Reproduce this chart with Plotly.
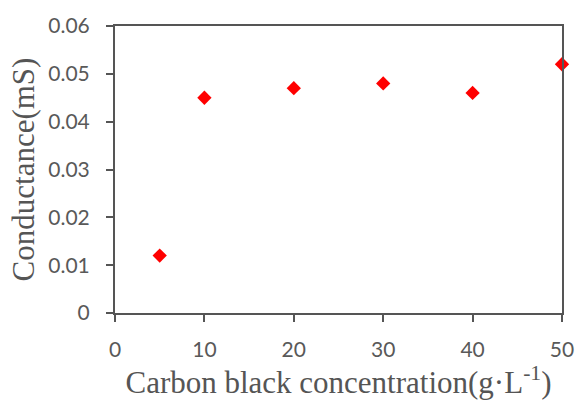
import plotly.graph_objects as go

# Conductance measured at each carbon black concentration
concentration = [5, 10, 20, 30, 40, 50]          # g·L-1
conductance = [0.012, 0.045, 0.047, 0.048, 0.046, 0.052]  # mS

x_ticks = [0, 10, 20, 30, 40, 50]
y_ticks = [0, 0.01, 0.02, 0.03, 0.04, 0.05, 0.06]
y_tick_text = ["0", "0.01", "0.02", "0.03", "0.04", "0.05", "0.06"]

axis_color = "#555555"
tick_font = dict(family="Lato, Open Sans, sans-serif", size=21, color="#595959")
title_font = dict(family="Liberation Serif, Times New Roman, serif", size=31, color="#555555")

fig = go.Figure(
    go.Scatter(
        x=concentration,
        y=conductance,
        mode="markers",
        marker=dict(symbol="diamond", size=11, color="#FF0000", line=dict(width=0)),
        cliponaxis=False,
        showlegend=False,
    )
)

fig.update_xaxes(
    range=[0, 50],
    tickvals=x_ticks,
    ticks="outside",
    ticklen=7,
    tickwidth=2,
    tickcolor=axis_color,
    showline=True,
    linewidth=2,
    linecolor=axis_color,
    mirror=True,
    showgrid=False,
    zeroline=False,
    tickfont=tick_font,
    ticklabelstandoff=10,
    title=dict(text="Carbon black concentration(g·L<sup>-1</sup>)", font=title_font, standoff=7),
)

fig.update_yaxes(
    range=[0, 0.06],
    tickvals=y_ticks,
    ticktext=y_tick_text,
    ticks="outside",
    ticklen=7,
    tickwidth=2,
    tickcolor=axis_color,
    showline=True,
    linewidth=2,
    linecolor=axis_color,
    mirror=True,
    showgrid=False,
    zeroline=False,
    tickfont=tick_font,
    ticklabelstandoff=12,
    title=dict(text="Conductance(mS)", font=title_font, standoff=4),
)

fig.update_layout(
    width=586,
    height=405,
    margin=dict(l=115, r=14, t=22, b=92),
    paper_bgcolor="white",
    plot_bgcolor="white",
)

fig.write_html("out.html")
